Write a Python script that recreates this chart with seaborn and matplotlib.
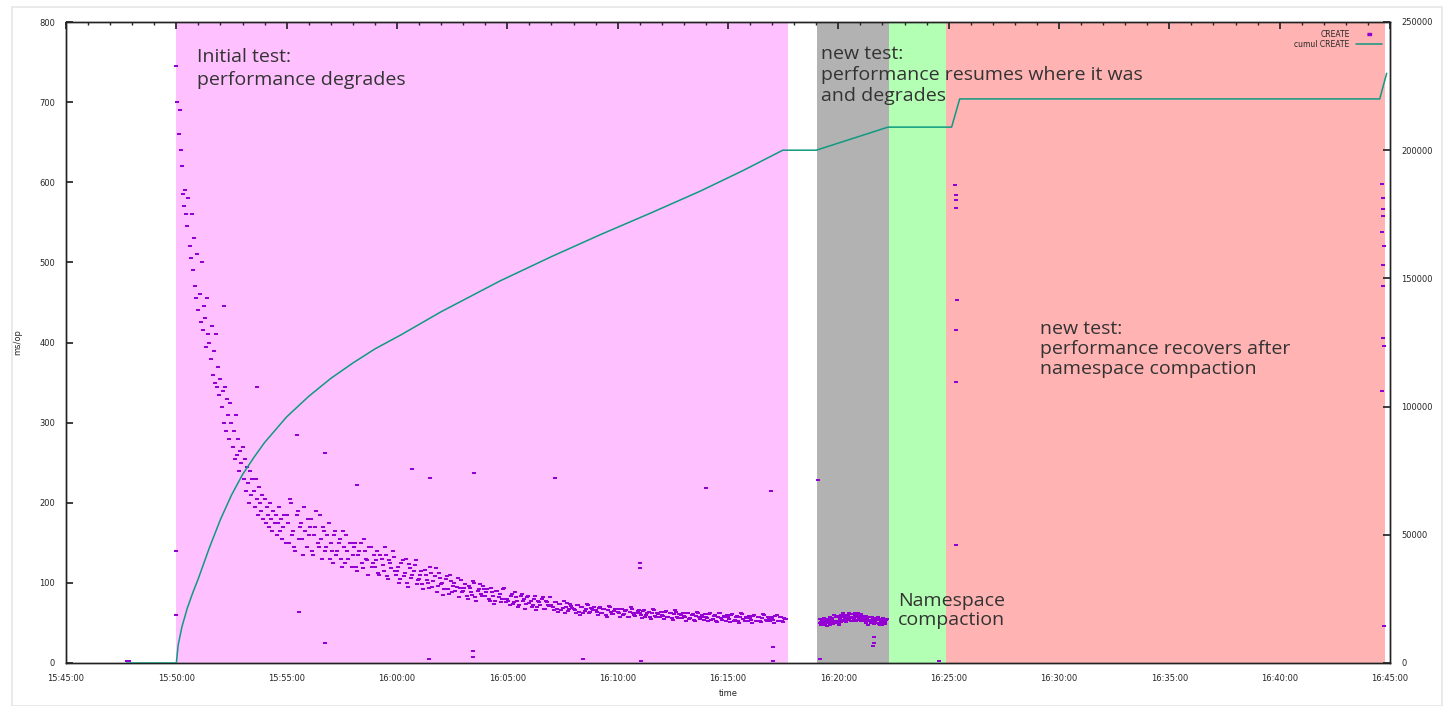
import numpy as np
import pandas as pd
import matplotlib
matplotlib.use("Agg")
import matplotlib.pyplot as plt
import matplotlib.dates as mdates
from matplotlib.patches import Rectangle
import seaborn as sns

day = "2020-01-01 "

# CREATE latency, initial test, 15:50:00 - 15:55:00 every 3 s
seg_a_start = "15:50:00"
seg_a = [745, 700, 660, 690, 640, 620, 585, 570, 590, 560,
         545, 580, 520, 505, 560, 490, 530, 470, 455, 510,
         440, 460, 425, 500, 415, 445, 430, 395, 455, 410,
         400, 380, 420, 360, 390, 350, 410, 345, 370, 335,
         355, 320, 340, 300, 345, 290, 330, 310, 280, 325,
         300, 270, 290, 255, 310, 260, 280, 240, 265, 250,
         270, 230, 255, 215, 245, 225, 200, 240, 210, 230,
         215, 195, 230, 205, 185, 220, 200, 190, 210, 180,
         205, 175, 195, 185, 170, 200, 180, 165, 190, 175,
         185, 160, 175, 195, 165, 180, 155, 170, 185, 150]

# initial test continued, 15:55:00 - 16:17:36 every 6 s
seg_b_start = "15:55:00"
seg_b = [185, 150, 200, 165, 140, 190, 170, 155, 195, 145,
         160, 180, 135, 170, 150, 185, 130, 165, 145, 175,
         150, 125, 165, 140, 155, 120, 145, 160, 130, 150,
         135, 150, 115, 140, 125, 155, 130, 110, 145, 125,
         120, 140, 110, 130, 115, 135, 105, 125, 140, 115,
         115, 100, 125, 108, 130, 95, 118, 110, 122, 98,
         105, 115, 92, 110, 100, 120, 95, 108, 88, 112,
         98, 85, 105, 92, 110, 88, 100, 95, 82, 104,
         90, 98, 80, 94, 85, 100, 78, 92, 86, 96,
         84, 92, 78, 88, 74, 90, 82, 76, 92, 80,
         80, 72, 86, 76, 82, 70, 84, 78, 68, 82,
         75, 70, 80, 66, 78, 72, 82, 68, 76, 71,
         72, 66, 76, 64, 74, 69, 62, 75, 67, 71,
         68, 63, 72, 60, 70, 65, 74, 62, 69, 66,
         66, 60, 70, 63, 68, 58, 71, 64, 61, 67,
         64, 58, 68, 61, 66, 57, 70, 62, 59, 65,
         62, 56, 66, 60, 64, 55, 68, 59, 63, 57,
         60, 55, 65, 58, 63, 54, 66, 57, 61, 56,
         59, 53, 63, 56, 61, 52, 64, 57, 60, 54,
         58, 52, 62, 55, 60, 51, 63, 56, 59, 53,
         57, 51, 61, 54, 59, 50, 62, 55, 58, 52,
         56, 50, 60, 53, 58, 51, 61, 54, 57, 52,
         56, 50, 60, 53, 58, 51, 55]

# second client of the initial test, 15:55:03 every 6 s
seg_b2_start = "15:55:03"
seg_b2 = [175, 205, 160, 145, 185, 155, 175, 135, 165, 180,
          170, 140, 160, 190, 145, 155, 170, 140, 160, 130,
          140, 160, 135, 150, 130, 165, 125, 140, 150, 120,
          145, 120, 135, 150, 118, 140, 128, 145, 120, 135,
          128, 112, 135, 122, 145, 108, 128, 118, 132, 110,
          120, 105, 128, 112, 100, 124, 106, 115, 128, 104,
          110, 98, 116, 104, 94, 112, 102, 118, 96, 106,
          100, 92, 108, 86, 102, 96, 90, 106, 94, 88,
          94, 84, 96, 88, 102, 82, 90, 98, 84, 92,
          88, 80, 94, 84, 78, 90, 86, 80, 94, 76,
          78, 84, 74, 88, 78, 72, 86, 80, 74, 84,
          78, 72, 84, 70, 76, 80, 68, 78, 73, 82,
          70, 76, 68, 74, 66, 78, 70, 65, 74, 69,
          66, 72, 64, 70, 62, 68, 72, 64, 67, 70,
          64, 69, 62, 67, 60, 66, 70, 61, 65, 68,
          62, 67, 60, 65, 58, 64, 68, 60, 63, 66,
          60, 65, 58, 63, 57, 62, 66, 58, 61, 64,
          59, 64, 57, 62, 56, 61, 64, 56, 60, 63,
          57, 62, 55, 60, 54, 59, 63, 55, 58, 61,
          56, 61, 54, 59, 53, 58, 62, 54, 57, 60,
          55, 60, 53, 58, 52, 57, 61, 53, 56, 59,
          54, 59, 52, 57, 53, 56, 60, 52, 55, 58,
          54, 59, 52, 57, 53, 56, 55]

# second test (grey zone), 16:19:10 every 3 s, two clients
seg_c_start = "16:19:10"
seg_c = [50, 47, 53, 49, 55, 48, 52, 50, 54, 47,
         51, 56, 49, 53, 50, 57, 52, 48, 55, 51,
         58, 53, 60, 55, 52, 59, 54, 61, 56, 53,
         58, 55, 62, 57, 54, 60, 56, 52, 59, 55,
         57, 53, 50, 56, 52, 58, 54, 51, 55, 49,
         53, 56, 50, 54, 48, 52, 55, 50, 53, 51, 54]
seg_c2_start = "16:19:11"
seg_c2 = [55, 51, 48, 56, 50, 53, 46, 55, 51, 58,
          49, 54, 60, 51, 57, 53, 59, 50, 56, 60,
          54, 62, 57, 51, 60, 56, 63, 58, 52, 61,
          56, 60, 53, 59, 62, 55, 58, 61, 54, 57,
          52, 59, 55, 48, 57, 53, 50, 58, 52, 56,
          50, 54, 58, 49, 55, 51, 47, 56, 52, 49, 55]

# scattered single points
odd_times = ["15:47:45", "15:47:50", "15:50:00", "15:50:00", "15:52:10", "15:53:40",
             "15:55:28", "15:55:33", "15:56:44", "15:56:45", "15:58:11", "16:00:41",
             "16:01:27", "16:01:30", "16:03:27", "16:03:28", "16:03:29", "16:07:09",
             "16:08:25", "16:11:00", "16:11:02", "16:11:03", "16:13:59", "16:16:56",
             "16:17:02", "16:17:03", "16:19:05", "16:19:10", "16:21:34", "16:21:36",
             "16:21:38", "16:24:33",
             "16:25:18", "16:25:19", "16:25:20", "16:25:21", "16:25:22", "16:25:20",
             "16:25:19", "16:25:21",
             "16:44:38", "16:44:40", "16:44:41", "16:44:42", "16:44:39", "16:44:43",
             "16:44:40", "16:44:42", "16:44:41", "16:44:43", "16:44:39", "16:44:44"]
odd_vals = [2, 3, 140, 60, 445, 345,
            285, 64, 262, 25, 222, 242,
            5, 231, 8, 15, 237, 231,
            5, 125, 118, 3, 219, 215,
            20, 2, 228, 5, 21, 32,
            25, 2,
            597, 584, 578, 568, 453, 416,
            351, 147,
            598, 580, 567, 558, 538, 521,
            497, 470, 406, 396, 340, 46]

# cumulative CREATE count
cum_times = ["15:47:45", "15:50:00", "15:50:05", "15:50:15", "15:50:30", "15:50:45",
             "15:51:00", "15:51:15", "15:51:30", "15:52:00", "15:52:30", "15:53:00",
             "15:53:30", "15:54:00", "15:54:30", "15:55:00", "15:56:00", "15:57:00",
             "15:58:00", "15:59:00", "16:00:11", "16:02:00", "16:04:40", "16:07:00",
             "16:09:12", "16:11:30", "16:13:44", "16:15:40", "16:17:29", "16:19:00",
             "16:22:15", "16:25:08", "16:25:30", "16:44:32", "16:44:51"]
cum_vals = [0, 0, 7000, 14000, 21500, 27500,
            33000, 39000, 45000, 56000, 65500, 73500,
            80000, 86000, 91000, 96000, 104000, 111000,
            117000, 122500, 128000, 137000, 149000, 158500,
            167000, 175500, 184000, 192000, 200000, 200000,
            209000, 209000, 220000, 220000, 230000]

# phases shown as background bands
zone_starts = ["15:50:00", "16:19:02", "16:22:18", "16:24:52"]
zone_ends = ["16:17:43", "16:22:18", "16:24:52", "16:44:46"]
zone_colors = ["#ffc0ff", "#b2b2b2", "#b3ffb3", "#ffb3b3"]

notes = ["Initial test:\nperformance degrades",
         "new test:\nperformance resumes where it was\nand degrades",
         "new test:\nperformance recovers after\nnamespace compaction",
         "Namespace\ncompaction"]
note_times = ["15:50:56", "16:19:13", "16:29:08", "16:22:42"]
note_vals = [767, 771, 428, 89]
note_spacing = [1.3, 1.2, 1.15, 1.12]


def ts(t):
    return pd.Timestamp(day + t)


def stepped(start, vals, step):
    return list(ts(start) + pd.to_timedelta(np.arange(len(vals)) * step, unit="s"))


times = (stepped(seg_a_start, seg_a, 3) + stepped(seg_b_start, seg_b, 6)
         + stepped(seg_b2_start, seg_b2, 6) + stepped(seg_c_start, seg_c, 3)
         + stepped(seg_c2_start, seg_c2, 3) + [ts(t) for t in odd_times])
df = pd.DataFrame({"time": times, "msec": seg_a + seg_b + seg_b2 + seg_c + seg_c2 + odd_vals})
cum = pd.DataFrame({"time": [ts(t) for t in cum_times], "cumul": cum_vals})

sns.set_theme(style="white")
plt.rcParams["font.family"] = ["DejaVu Sans"]

fig = plt.figure(figsize=(14.48, 7.06), dpi=100)
fig.patches.append(Rectangle((12 / 1448, 0), 1430 / 1448, 699 / 706, transform=fig.transFigure,
                             fill=False, edgecolor="#e6e6e6", linewidth=1.2))
ax = fig.add_axes([66 / 1448, 1 - 663 / 706, 1324 / 1448, 641 / 706])

for s, e, c in zip(zone_starts, zone_ends, zone_colors):
    ax.axvspan(ts(s), ts(e), color=c, zorder=0, linewidth=0)

dash = [(-2, -0.9), (2, -0.9), (2, 0.9), (-2, 0.9)]
sns.scatterplot(data=df, x="time", y="msec", ax=ax, color="#9400d3", marker=dash,
                s=6, linewidth=0, zorder=3, legend=False)

ax2 = ax.twinx()
sns.lineplot(data=cum, x="time", y="cumul", ax=ax2, color="#0f9a80", linewidth=1.1,
             estimator=None, zorder=4)

ax.set_xlim(ts("15:45:00"), ts("16:45:00"))
ax.set_ylim(0, 800)
ax2.set_ylim(0, 250000)
ax.set_yticks(range(0, 801, 100))
ax2.set_yticks(range(0, 250001, 50000))

ax.xaxis.set_major_locator(mdates.MinuteLocator(byminute=range(0, 60, 5)))
ax.xaxis.set_minor_locator(mdates.MinuteLocator())
ax.xaxis.set_major_formatter(mdates.DateFormatter("%H:%M:%S"))

ax.tick_params(axis="x", which="major", direction="in", length=5, top=True, labelsize=6, pad=8)
ax.tick_params(axis="x", which="minor", direction="in", length=2.5, top=True)
ax.tick_params(axis="y", direction="in", length=5, labelsize=6, pad=8, left=True)
ax2.tick_params(axis="y", direction="in", length=5, labelsize=6, pad=8, right=True)

ax.set_xlabel("time", fontsize=6)
ax.set_ylabel("ms/op", fontsize=6, labelpad=12)
ax2.set_ylabel("")

for sp in list(ax.spines.values()) + list(ax2.spines.values()):
    sp.set_color("#222222")
    sp.set_linewidth(1.0)

for txt, t, v, lsp in zip(notes, note_times, note_vals, note_spacing):
    ax.text(ts(t), v, txt, fontsize=14, color="#333333", va="top", ha="left",
            linespacing=lsp, zorder=5, family=["Open Sans", "DejaVu Sans"])

pts = plt.Line2D([], [], color="#9400d3", marker=dash, linestyle="none", markersize=3)
ln = plt.Line2D([], [], color="#0f9a80", linewidth=1.1)
ax2.legend([pts, ln], ["CREATE", "cumul CREATE"], loc="upper right", frameon=False,
           fontsize=5.5, markerfirst=False, handlelength=3.5, borderaxespad=0.6,
           labelspacing=0.2)

fig.savefig("out.png", dpi=100)
